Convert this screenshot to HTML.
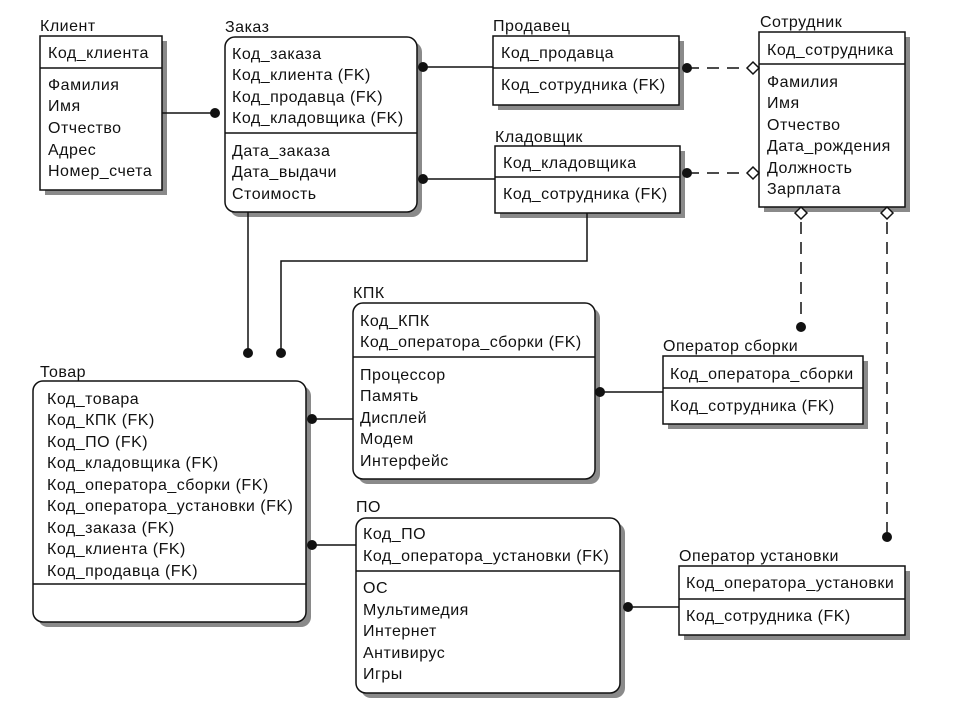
<!DOCTYPE html>
<html><head><meta charset="utf-8"><style>
html,body{margin:0;padding:0;background:#fff;}
svg text{font-family:"Liberation Sans","DejaVu Sans",sans-serif;font-size:16px;letter-spacing:0.5px;fill:#111;}
</style></head><body>
<svg width="968" height="714" viewBox="0 0 968 714" xmlns="http://www.w3.org/2000/svg">
<rect width="968" height="714" fill="#fff"/>
<g fill="#8a8a8a">
<rect x="45" y="41" width="122" height="154"/>
<rect x="230" y="42" width="192" height="175" rx="10"/>
<rect x="498" y="41" width="186" height="69"/>
<rect x="500" y="151" width="185" height="67"/>
<rect x="764" y="37" width="146" height="175"/>
<rect x="358" y="308" width="242" height="176" rx="10"/>
<rect x="668" y="361" width="200" height="68"/>
<rect x="38" y="386" width="273" height="241" rx="10"/>
<rect x="361" y="523" width="264" height="175" rx="10"/>
<rect x="684" y="571" width="226" height="69"/>
</g>
<g fill="#fff" stroke="#111" stroke-width="1.5">
<rect x="40" y="36" width="122" height="154"/>
<rect x="225" y="37" width="192" height="175" rx="10"/>
<rect x="493" y="36" width="186" height="69"/>
<rect x="495" y="146" width="185" height="67"/>
<rect x="759" y="32" width="146" height="175"/>
<rect x="353" y="303" width="242" height="176" rx="10"/>
<rect x="663" y="356" width="200" height="68"/>
<rect x="33" y="381" width="273" height="241" rx="10"/>
<rect x="356" y="518" width="264" height="175" rx="10"/>
<rect x="679" y="566" width="226" height="69"/>
</g>
<g stroke="#111" stroke-width="1.5" fill="none">
<line x1="40" y1="68" x2="162" y2="68"/>
<line x1="225" y1="133" x2="417" y2="133"/>
<line x1="493" y1="68" x2="679" y2="68"/>
<line x1="495" y1="177" x2="680" y2="177"/>
<line x1="759" y1="64" x2="905" y2="64"/>
<line x1="353" y1="357" x2="595" y2="357"/>
<line x1="663" y1="388" x2="863" y2="388"/>
<line x1="33" y1="584" x2="306" y2="584"/>
<line x1="356" y1="571" x2="620" y2="571"/>
<line x1="679" y1="599" x2="905" y2="599"/>
<line x1="162" y1="113" x2="215" y2="113"/>
<line x1="423" y1="67" x2="493" y2="67"/>
<line x1="423" y1="179" x2="495" y2="179"/>
<line x1="248" y1="212" x2="248" y2="353"/>
<polyline points="281,353 281,261 587,261 587,213"/>
<line x1="312" y1="419" x2="353" y2="419"/>
<line x1="312" y1="545" x2="356" y2="545"/>
<line x1="600" y1="392" x2="663" y2="392"/>
<line x1="628" y1="607" x2="679" y2="607"/>
<g stroke-dasharray="12,8">
<line x1="687" y1="68" x2="748" y2="68"/>
<line x1="687" y1="173" x2="748" y2="173"/>
<line x1="801" y1="222" x2="801" y2="327"/>
<line x1="887" y1="222" x2="887" y2="537"/>
</g>
</g>
<g fill="#111">
<circle cx="215" cy="113" r="5"/>
<circle cx="423" cy="67" r="5"/>
<circle cx="423" cy="179" r="5"/>
<circle cx="687" cy="68" r="5"/>
<circle cx="687" cy="173" r="5"/>
<circle cx="248" cy="353" r="5"/>
<circle cx="281" cy="353" r="5"/>
<circle cx="312" cy="419" r="5"/>
<circle cx="312" cy="545" r="5"/>
<circle cx="600" cy="392" r="5"/>
<circle cx="628" cy="607" r="5"/>
<circle cx="801" cy="327" r="5"/>
<circle cx="887" cy="537" r="5"/>
</g>
<g fill="#fff" stroke="#111" stroke-width="1.5">
<polygon points="747,68 753,62 759,68 753,74"/>
<polygon points="747,173 753,167 759,173 753,179"/>
<polygon points="795,213 801,207 807,213 801,219"/>
<polygon points="881,213 887,207 893,213 887,219"/>
</g>
<text x="40" y="31">Клиент</text>
<text x="225" y="32">Заказ</text>
<text x="493" y="31">Продавец</text>
<text x="495" y="142">Кладовщик</text>
<text x="760" y="27">Сотрудник</text>
<text x="353" y="298">КПК</text>
<text x="40" y="377">Товар</text>
<text x="356" y="512">ПО</text>
<text x="663" y="351">Оператор сборки</text>
<text x="679" y="561">Оператор установки</text>
<text x="48" y="58">Код_клиента</text>
<text x="48" y="90">Фамилия</text>
<text x="48" y="111">Имя</text>
<text x="48" y="133">Отчество</text>
<text x="48" y="155">Адрес</text>
<text x="48" y="176">Номер_счета</text>
<text x="232" y="59">Код_заказа</text>
<text x="232" y="80">Код_клиента (FK)</text>
<text x="232" y="102">Код_продавца (FK)</text>
<text x="232" y="123">Код_кладовщика (FK)</text>
<text x="232" y="156">Дата_заказа</text>
<text x="232" y="177">Дата_выдачи</text>
<text x="232" y="199">Стоимость</text>
<text x="501" y="58">Код_продавца</text>
<text x="501" y="90">Код_сотрудника (FK)</text>
<text x="503" y="168">Код_кладовщика</text>
<text x="503" y="199">Код_сотрудника (FK)</text>
<text x="767" y="55">Код_сотрудника</text>
<text x="767" y="87">Фамилия</text>
<text x="767" y="108">Имя</text>
<text x="767" y="130">Отчество</text>
<text x="767" y="151">Дата_рождения</text>
<text x="767" y="173">Должность</text>
<text x="767" y="194">Зарплата</text>
<text x="360" y="326">Код_КПК</text>
<text x="360" y="347">Код_оператора_сборки (FK)</text>
<text x="360" y="380">Процессор</text>
<text x="360" y="401">Память</text>
<text x="360" y="423">Дисплей</text>
<text x="360" y="444">Модем</text>
<text x="360" y="466">Интерфейс</text>
<text x="47" y="404">Код_товара</text>
<text x="47" y="425">Код_КПК (FK)</text>
<text x="47" y="447">Код_ПО (FK)</text>
<text x="47" y="468">Код_кладовщика (FK)</text>
<text x="47" y="490">Код_оператора_сборки (FK)</text>
<text x="47" y="511">Код_оператора_установки (FK)</text>
<text x="47" y="533">Код_заказа (FK)</text>
<text x="47" y="554">Код_клиента (FK)</text>
<text x="47" y="576">Код_продавца (FK)</text>
<text x="363" y="539">Код_ПО</text>
<text x="363" y="561">Код_оператора_установки (FK)</text>
<text x="363" y="593">ОС</text>
<text x="363" y="615">Мультимедия</text>
<text x="363" y="636">Интернет</text>
<text x="363" y="658">Антивирус</text>
<text x="363" y="679">Игры</text>
<text x="670" y="379">Код_оператора_сборки</text>
<text x="670" y="411">Код_сотрудника (FK)</text>
<text x="686" y="588">Код_оператора_установки</text>
<text x="686" y="621">Код_сотрудника (FK)</text>
</svg>
</body></html>
